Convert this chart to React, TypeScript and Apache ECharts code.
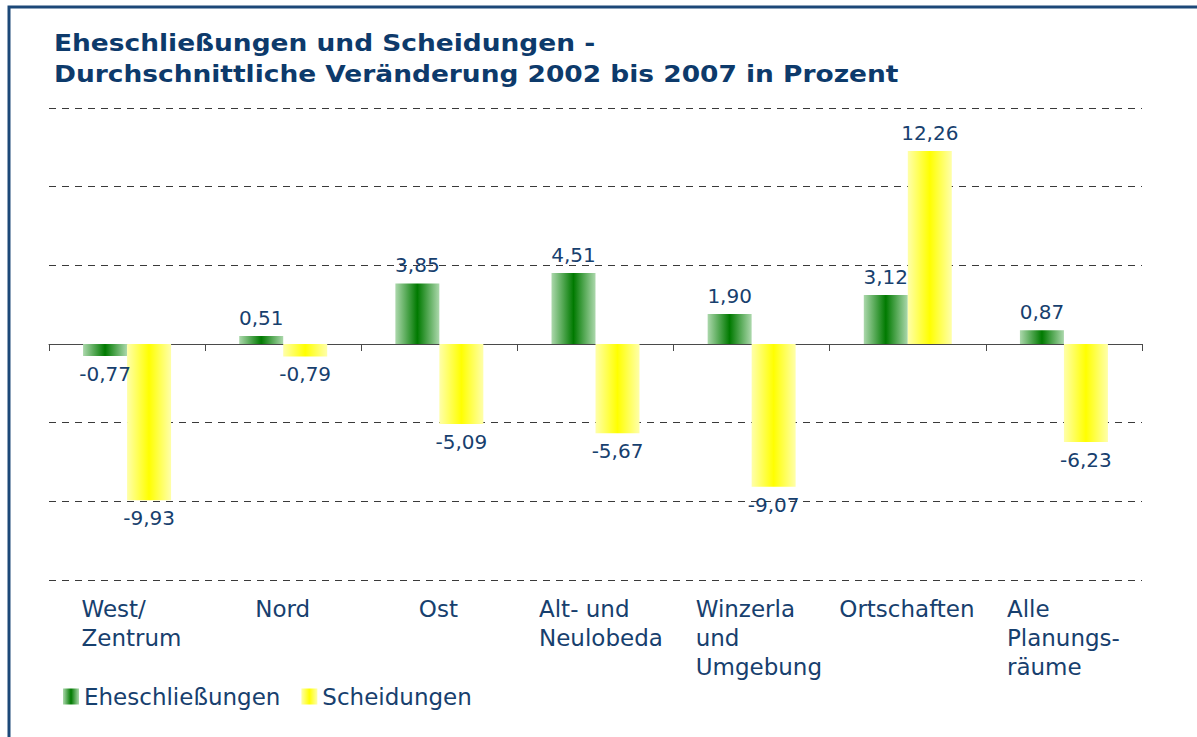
import React, { useEffect, useRef } from "react";
import * as echarts from "echarts";

const categories: string[] = [
  "West/\nZentrum",
  "Nord",
  "Ost",
  "Alt- und\nNeulobeda",
  "Winzerla\nund\nUmgebung",
  "Ortschaften",
  "Alle\nPlanungs-\nräume",
];
const eheschliessungen: number[] = [-0.77, 0.51, 3.85, 4.51, 1.9, 3.12, 0.87];
const scheidungen: number[] = [-9.93, -0.79, -5.09, -5.67, -9.07, 12.26, -6.23];
const seriesNames: string[] = ["Eheschließungen", "Scheidungen"];
const titleLines: string[] = [
  "Eheschließungen und Scheidungen -",
  "Durchschnittliche Veränderung 2002 bis 2007 in Prozent",
];

// styling: extra left padding of wrapped category labels (px)
const labelPadLeft: number[] = [10, 0, 0, 12, 16, 0, 0];

const TEXT = "#17406e";
const FONT = "'DejaVu Sans', Verdana, sans-serif";
const CAT_SIZE = 23;

function measure(text: string, size: number): number {
  const c = document.createElement("canvas");
  const ctx = c.getContext("2d");
  if (!ctx) return text.length * size * 0.6;
  ctx.font = `${size}px 'DejaVu Sans'`;
  return ctx.measureText(text).width;
}

const fmt = (v: number) => v.toFixed(2).replace(".", ",");

export default function App() {
  const ref = useRef<HTMLDivElement>(null);
  useEffect(() => {
    if (!ref.current) return;
    const chart = echarts.init(ref.current, undefined, { renderer: "svg" });

    const rich: Record<string, any> = {};
    categories.forEach((c, i) => {
      const lines = c.split("\n");
      const w = Math.max(...lines.map((l) => measure(l, CAT_SIZE)));
      rich["l" + i] = {
        width: Math.ceil(w) + 1,
        align: "left",
        padding: [0, 0, 0, labelPadLeft[i] || 0],
        fontSize: CAT_SIZE,
        lineHeight: 29,
        color: TEXT,
        fontFamily: FONT,
      };
    });

    const green = new echarts.graphic.LinearGradient(0, 0, 1, 0, [
      { offset: 0, color: "#acd8ac" },
      { offset: 0.5, color: "#007a00" },
      { offset: 1, color: "#acd8ac" },
    ]);
    const yellow = new echarts.graphic.LinearGradient(0, 0, 1, 0, [
      { offset: 0, color: "#ffffaa" },
      { offset: 0.5, color: "#ffff00" },
      { offset: 1, color: "#ffffaa" },
    ]);

    const mkData = (arr: number[]) =>
      arr.map((v) => ({
        value: v,
        label: { position: v >= 0 ? "top" : "bottom" },
      }));

    const labelCfg = {
      show: true,
      distance: 8,
      color: TEXT,
      fontSize: 20,
      fontFamily: FONT,
      formatter: (p: any) => fmt(p.value),
    };

    chart.setOption({
      animation: false,
      backgroundColor: "#ffffff",
      textStyle: { fontFamily: FONT },
      graphic: [
        {
          type: "polyline",
          shape: {
            points: [
              [9, 737],
              [9, 7],
              [1197, 7],
            ],
          },
          style: { stroke: "#1c4878", lineWidth: 3, fill: null },
          silent: true,
        },
        {
          type: "text",
          x: 54,
          y: 28,
          scaleX: 1.15,
          scaleY: 1,
          silent: true,
          style: {
            text: titleLines.join("\n"),
            fill: "#0d3a6b",
            font: `bold 23px ${FONT}`,
            lineHeight: 31,
            textAlign: "left",
            textVerticalAlign: "top",
          },
        },
      ],
      legend: {
        left: 58,
        top: 680,
        itemWidth: 16,
        itemHeight: 16,
        itemGap: 21,
        icon: "rect",
        textStyle: { color: TEXT, fontSize: 23, fontFamily: FONT },
        data: seriesNames,
      },
      grid: { left: 49, right: 55, top: 108, bottom: 157, containLabel: false },
      xAxis: [
        {
          type: "category",
          data: categories,
          axisLine: { onZero: true, lineStyle: { color: "#4a4a4a", width: 1 } },
          axisTick: { show: true, length: 7, lineStyle: { color: "#4a4a4a" } },
          axisLabel: { show: false },
          splitLine: { show: false },
        },
        {
          type: "category",
          data: categories,
          position: "bottom",
          axisLine: { show: false, onZero: false },
          axisTick: { show: false },
          axisLabel: {
            show: true,
            margin: 14,
            interval: 0,
            formatter: (v: string, i: number) =>
              v
                .split("\n")
                .map((l) => `{l${i}|${l}}`)
                .join("\n"),
            rich,
          },
        },
      ],
      yAxis: {
        type: "value",
        min: -15,
        max: 15,
        interval: 5,
        axisLine: { show: false },
        axisTick: { show: false },
        axisLabel: { show: false },
        splitLine: {
          show: true,
          lineStyle: { color: "#3a3a3a", type: [7, 6], width: 1 },
        },
      },
      series: [
        {
          name: seriesNames[0],
          type: "bar",
          xAxisIndex: 0,
          barWidth: 44,
          barGap: "0%",
          itemStyle: { color: green },
          label: labelCfg,
          data: mkData(eheschliessungen),
        },
        {
          name: seriesNames[1],
          type: "bar",
          xAxisIndex: 0,
          barWidth: 44,
          barGap: "0%",
          itemStyle: { color: yellow },
          label: labelCfg,
          data: mkData(scheidungen),
        },
      ],
    });
    return () => chart.dispose();
  }, []);
  return (
    <div
      ref={ref}
      style={{ position: "absolute", left: 0, top: 0, width: 1197, height: 737 }}
    />
  );
}
